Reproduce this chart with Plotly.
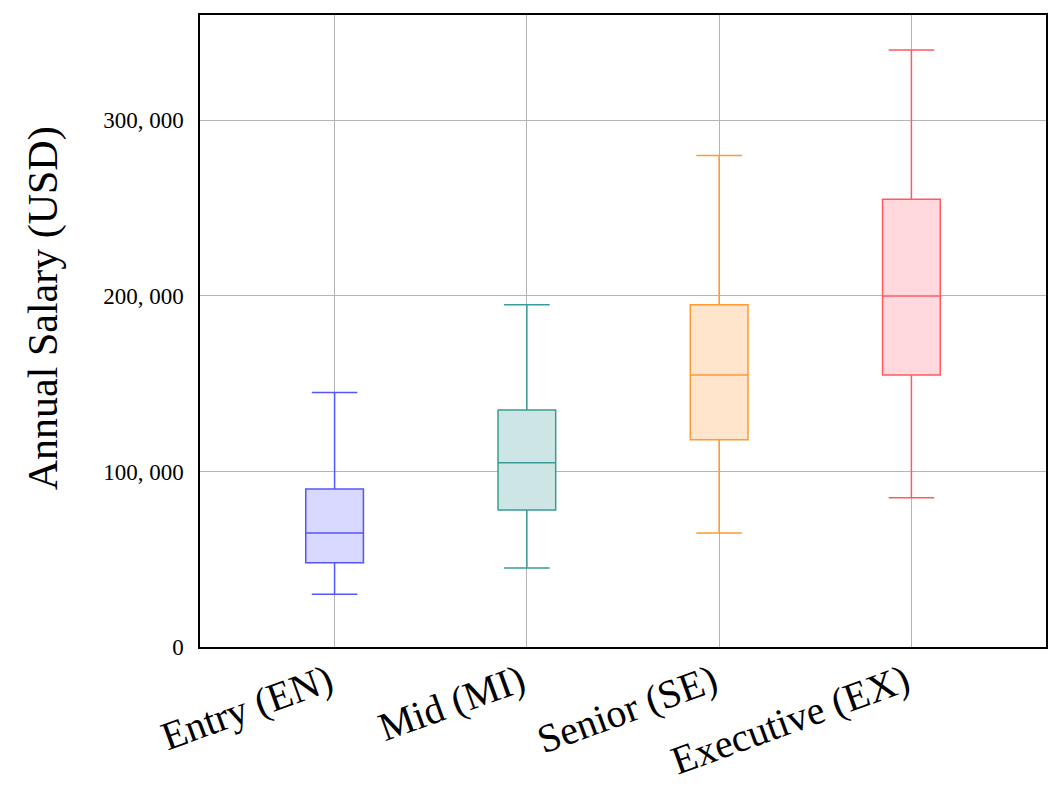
import plotly.graph_objects as go

categories = ["Entry (EN)", "Mid (MI)", "Senior (SE)", "Executive (EX)"]
lower_whisker = [30000, 45000, 65000, 85000]
q1_values = [48000, 78000, 118000, 155000]
median_values = [65000, 105000, 155000, 200000]
q3_values = [90000, 135000, 195000, 255000]
upper_whisker = [145000, 195000, 280000, 340000]

y_tick_vals = [0, 100000, 200000, 300000]
y_tick_text = ["0", "100, 000", "200, 000", "300, 000"]
y_title = "Annual Salary (USD)"

line_colors = ["#5555ff", "#3a9c97", "#ff9933", "#ff5a5f"]
fill_colors = ["rgb(217,217,255)", "rgb(205,230,229)", "rgb(255,229,204)", "rgb(255,217,221)"]

fig = go.Figure()
for i, cat in enumerate(categories):
    fig.add_trace(go.Box(
        x=[cat],
        q1=[q1_values[i]],
        median=[median_values[i]],
        q3=[q3_values[i]],
        lowerfence=[lower_whisker[i]],
        upperfence=[upper_whisker[i]],
        width=0.3,
        whiskerwidth=0.79,
        line=dict(color=line_colors[i], width=1.5),
        fillcolor=fill_colors[i],
        boxpoints=False,
        showlegend=False,
        hoverinfo="skip",
    ))

font_family = "Liberation Serif, Times New Roman, serif"

fig.update_layout(
    width=1054,
    height=794,
    margin=dict(l=200, r=8, t=15, b=147),
    paper_bgcolor="white",
    plot_bgcolor="white",
    font=dict(family=font_family, color="black"),
    xaxis=dict(
        type="category",
        range=[-0.7, 3.7],
        automargin=False,
        showgrid=True,
        gridcolor="#b4b4b4",
        gridwidth=1.3,
        showline=True,
        linecolor="black",
        linewidth=1.5,
        mirror=True,
        ticks="",
        tickangle=-20,
        ticklabelstandoff=-6,
        ticklabelshift=-6,
        tickfont=dict(size=40, family=font_family),
        zeroline=False,
    ),
    yaxis=dict(
        range=[0, 360000],
        automargin=False,
        tickvals=y_tick_vals,
        ticktext=y_tick_text,
        showgrid=True,
        gridcolor="#b4b4b4",
        gridwidth=1.3,
        showline=True,
        linecolor="black",
        linewidth=1.5,
        mirror=True,
        ticks="",
        ticklen=0,
        ticklabelstandoff=10,
        tickfont=dict(size=23, family=font_family),
        zeroline=False,
    ),
    annotations=[dict(
        text=y_title,
        textangle=-90,
        xref="paper", yref="paper",
        x=0, y=0.536,
        xanchor="center", yanchor="middle",
        xshift=-157,
        showarrow=False,
        font=dict(size=42, family=font_family, color="black"),
    )],
)

fig.write_html("out.html")
